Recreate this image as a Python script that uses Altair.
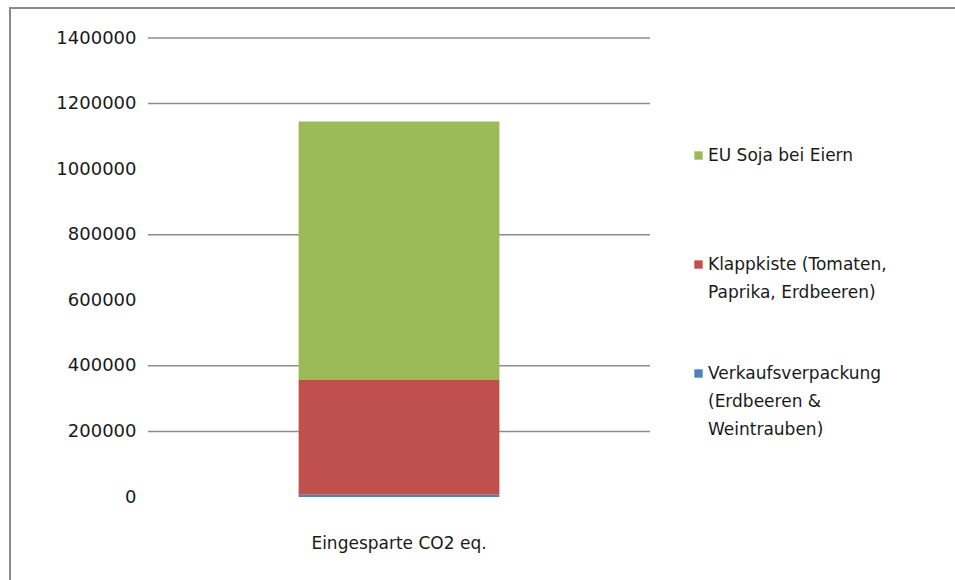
import altair as alt
import pandas as pd

# Data
category = "Eingesparte CO2 eq."
series = [
    "EU Soja bei Eiern",
    "Klappkiste (Tomaten, Paprika, Erdbeeren)",
    "Verkaufsverpackung (Erdbeeren & Weintrauben)",
]
values = [788000, 350000, 7000]
stack_rank = [2, 1, 0]  # 0 = bottom of stack
colors = ["#9BBB59", "#C0504D", "#4F81BD"]
legend_lines = [
    ["EU Soja bei Eiern"],
    ["Klappkiste (Tomaten,", "Paprika, Erdbeeren)"],
    ["Verkaufsverpackung", "(Erdbeeren &", "Weintrauben)"],
]
y_ticks = [0, 200000, 400000, 600000, 800000, 1000000, 1200000, 1400000]
visible_grid = [200000, 400000, 800000, 1200000, 1400000]

df = pd.DataFrame({
    "Kategorie": [category] * len(series),
    "Serie": series,
    "Wert": values,
    "rank": stack_rank,
})
grid_df = pd.DataFrame({"g": visible_grid})

# label expression for multi-line legend labels
parts = []
for name, lines in zip(series, legend_lines):
    arr = "[" + ", ".join("'" + l.replace("'", "\\'") + "'" for l in lines) + "]"
    parts.append(f"datum.label == '{name}' ? {arr}")
label_expr = " : ".join(parts) + " : datum.label"

W, H = 502, 459
FONT = "DejaVu Sans"
TXT = "#1a1a1a"

y_scale = alt.Scale(domain=[0, 1400000], nice=False)
y_axis = alt.Axis(
    title=None, values=y_ticks, format="d", grid=False, ticks=False,
    domain=False, labelFont=FONT, labelFontSize=18,
    labelColor=TXT, labelPadding=12,
)

grid = alt.Chart(grid_df).mark_rule(color="#8c8c8c", strokeWidth=1.5).encode(
    y=alt.Y("g:Q", scale=y_scale, axis=y_axis)
)

bars = alt.Chart(df).mark_bar().encode(
    x=alt.X(
        "Kategorie:N",
        scale=alt.Scale(paddingInner=0, paddingOuter=0.75),
        axis=alt.Axis(
            title=None, labelAngle=0, ticks=False, domain=False,
            labelFont=FONT, labelFontSize=17, labelColor=TXT,
            labelPadding=38, labelBaseline="top",
        ),
    ),
    y=alt.Y("Wert:Q", stack="zero", scale=y_scale, axis=y_axis),
    color=alt.Color(
        "Serie:N",
        scale=alt.Scale(domain=series, range=colors),
        legend=alt.Legend(
            title=None, orient="none", legendX=542, legendY=109,
            symbolType="square", symbolSize=70, symbolStrokeWidth=0,
            labelFont=FONT, labelFontSize=17,
            labelColor=TXT, labelExpr=label_expr, rowPadding=35, labelOffset=1,
            labelLimit=400, labelBaseline="middle", gridAlign="all",
        ),
    ),
    order=alt.Order("rank:Q", sort="ascending"),
)

frame = alt.Chart(df).mark_rect(fillOpacity=0, stroke="#8a8a8a", strokeWidth=2).encode(
    x=alt.value(-138), x2=alt.value(817), y=alt.value(-30), y2=alt.value(552)
)

chart = alt.layer(grid, bars, frame).properties(
    width=W, height=H,
    autosize=alt.AutoSizeParams(type="none"),
    padding={"left": 148, "top": 38, "right": 305, "bottom": 83},
).configure(
    background="white",
    style={"guide-label": {"lineHeight": 28}},
    view=alt.ViewConfig(stroke="transparent"),
)

chart.save("out.html", embed_options={"renderer": "svg", "actions": False})
